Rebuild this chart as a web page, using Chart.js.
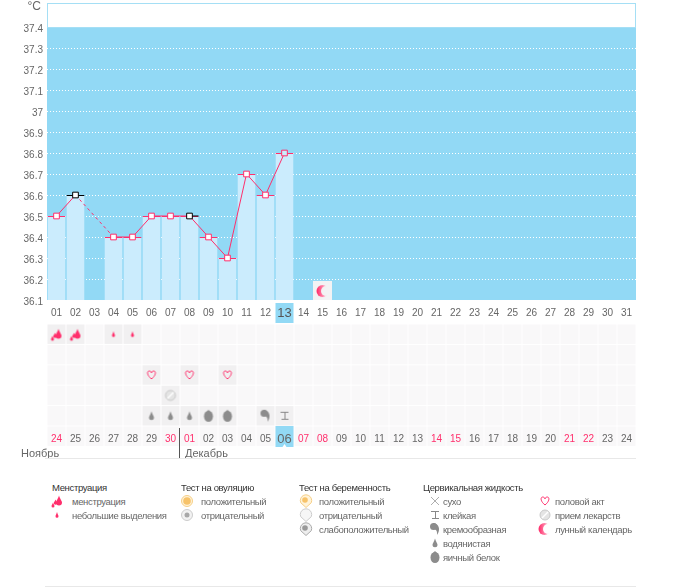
<!DOCTYPE html>
<html lang="ru">
<head>
<meta charset="utf-8">
<title>График температуры</title>
<script src="https://cdn.jsdelivr.net/npm/chart.js@4/dist/chart.umd.min.js"></script>
<style>
    html, body { margin: 0; padding: 0; background: #fff; }
    body { position: relative; width: 675px; height: 587px; overflow: hidden; font-family: "Liberation Sans", sans-serif; color: #666; }
    canvas.plot { position: absolute; left: 0; }
    .txt { position: absolute; font-size: 9.5px; letter-spacing: -0.35px; line-height: 12px; white-space: nowrap; }
    .title { color: #333; }
    .month { font-size: 11px; letter-spacing: 0; }
    .icon { position: absolute; }
    .rule { position: absolute; background: #e8e8e8; height: 1px; }
</style>
</head>
<body>
<canvas id="tempChart" class="plot" style="top:0" width="675" height="324"></canvas>
<canvas id="eventChart" class="plot" style="top:324px" width="675" height="135"></canvas>
<div id="legend"></div>
<script>
// Chart data
const days = ['01','02','03','04','05','06','07','08','09','10','11','12','13','14','15','16','17','18','19','20','21','22','23','24','25','26','27','28','29','30','31'];
const cycleDates = ['24','25','26','27','28','29','30','01','02','03','04','05','06','07','08','09','10','11','12','13','14','15','16','17','18','19','20','21','22','23','24'];
const redDates = [0, 6, 7, 13, 14, 20, 21, 27, 28];
const temps = [36.5, 36.6, null, 36.4, 36.4, 36.5, 36.5, 36.5, 36.4, 36.3, 36.7, 36.6, 36.8];
const tempTicks = [36.1, 36.2, 36.3, 36.4, 36.5, 36.6, 36.7, 36.8, 36.9, 37, 37.1, 37.2, 37.3, 37.4];
const blackDays = ['02', '08'];
const moonDays = ['15'];
const todayCycle = '13';

const heavyDays = ['01', '02'];
const spottingDays = ['04', '05'];
const intercourseDays = ['06', '08', '10'];
const medicineDays = ['07'];
const wateryDays = ['06', '07', '08'];
const eggWhiteDays = ['09', '10'];
const creamyDays = ['12'];
const stickyDays = ['13'];

const PINK = '#ff2f6c';
const BLUE = '#92d9f5';
const BAR = '#cbecfd';
const GREY = '#8c8c8c';
const FONT = '"Liberation Sans", sans-serif';
const TOP_VALUE = 37.5143;

// Small icons, used as point styles and in the legend
function makeIcon(size, draw) {
    const c = document.createElement('canvas');
    c.width = size;
    c.height = size;
    draw(c.getContext('2d'), size);
    return c;
}

function drop(g, x, y, w, h, color) {
    g.fillStyle = color;
    g.beginPath();
    g.moveTo(x, y - h / 2);
    g.bezierCurveTo(x + w * 0.2, y - h * 0.1, x + w / 2, y + h * 0.05, x + w / 2, y + h * 0.2);
    g.arc(x, y + h * 0.2, w / 2, 0, Math.PI);
    g.bezierCurveTo(x - w / 2, y + h * 0.05, x - w * 0.2, y - h * 0.1, x, y - h / 2);
    g.fill();
}

function shield(g, fill, stroke) {
    g.fillStyle = fill;
    g.strokeStyle = stroke;
    g.beginPath();
    g.arc(8, 7.5, 5.7, 0.4, Math.PI - 0.4, true);
    g.lineTo(8, 14.5);
    g.closePath();
    g.fill();
    g.stroke();
}

const iconDraw = {
    heavy: (g) => { drop(g, 10, 7.5, 6, 10, PINK); drop(g, 6.5, 9, 3.5, 5, PINK); drop(g, 4, 12, 3, 5, PINK); },
    spotting: (g) => { drop(g, 8, 8, 3, 6, PINK); },
    heart: (g) => {
        g.strokeStyle = PINK;
        g.lineWidth = 1;
        g.beginPath();
        g.moveTo(8, 12);
        g.bezierCurveTo(3, 8, 3.5, 4, 5.7, 4);
        g.bezierCurveTo(7, 4, 8, 5, 8, 6);
        g.bezierCurveTo(8, 5, 9, 4, 10.3, 4);
        g.bezierCurveTo(12.5, 4, 13, 8, 8, 12);
        g.stroke();
    },
    pill: (g) => {
        g.fillStyle = '#e4e4e4';
        g.strokeStyle = '#c8c8c8';
        g.beginPath();
        g.arc(8, 8, 5, 0, Math.PI * 2);
        g.fill();
        g.stroke();
        g.strokeStyle = '#fff';
        g.lineWidth = 1.5;
        g.beginPath();
        g.moveTo(5, 11);
        g.lineTo(11, 5);
        g.stroke();
    },
    watery: (g) => { drop(g, 8, 8, 5, 9, GREY); },
    eggWhite: (g) => {
        g.fillStyle = GREY;
        g.beginPath();
        g.ellipse(8, 8.5, 4.5, 5.5, 0, 0, Math.PI * 2);
        g.fill();
        g.beginPath();
        g.moveTo(5, 5);
        g.lineTo(8, 2);
        g.lineTo(11, 5);
        g.fill();
    },
    creamy: (g) => {
        g.fillStyle = GREY;
        g.beginPath();
        g.arc(6.5, 5.5, 3.5, 0, Math.PI * 2);
        g.fill();
        g.beginPath();
        g.moveTo(6, 2);
        g.bezierCurveTo(12, 2, 14, 9, 10, 14);
        g.bezierCurveTo(10.5, 10, 9, 8, 6, 8);
        g.fill();
    },
    sticky: (g) => {
        g.strokeStyle = '#888';
        g.lineWidth = 1;
        g.beginPath();
        g.moveTo(4, 4.5); g.lineTo(12, 4.5);
        g.moveTo(8.5, 4.5); g.lineTo(8.5, 11.5);
        g.moveTo(5, 11.5); g.lineTo(12, 11.5);
        g.stroke();
    },
    dry: (g) => {
        g.strokeStyle = '#999';
        g.lineWidth = 0.8;
        g.beginPath();
        g.moveTo(4, 4); g.lineTo(12, 12);
        g.moveTo(12, 4); g.lineTo(4, 12);
        g.stroke();
    },
    moon: (g) => {
        const fade = g.createLinearGradient(2, 0, 13, 0);
        fade.addColorStop(0, PINK);
        fade.addColorStop(1, '#ffd3df');
        g.fillStyle = fade;
        g.beginPath();
        g.arc(7.5, 8, 6, 0, Math.PI * 2);
        g.fill();
        g.globalCompositeOperation = 'destination-out';
        g.beginPath();
        g.arc(11, 8, 5, 0, Math.PI * 2);
        g.fill();
    },
    moonCell: (g, s) => {
        g.fillStyle = '#f3f3f4';
        g.fillRect(0, 0, s, s);
        const m = makeIcon(16, iconDraw.moon);
        g.drawImage(m, 2, 2);
    },
    ovuPos: (g) => {
        g.fillStyle = '#fff3d9';
        g.strokeStyle = '#f6cf86';
        g.beginPath();
        g.arc(8, 8, 5.5, 0, Math.PI * 2);
        g.fill();
        g.stroke();
        g.fillStyle = '#f7c36a';
        g.beginPath();
        g.arc(8, 8, 3.8, 0, Math.PI * 2);
        g.fill();
    },
    ovuNeg: (g) => {
        g.fillStyle = '#f2f2f2';
        g.strokeStyle = '#ccc';
        g.beginPath();
        g.arc(8, 8, 5.5, 0, Math.PI * 2);
        g.fill();
        g.stroke();
        g.fillStyle = '#a8a8a8';
        g.beginPath();
        g.arc(8, 8, 2.5, 0, Math.PI * 2);
        g.fill();
    },
    pregPos: (g) => {
        shield(g, '#fff3d9', '#f6cf86');
        g.fillStyle = '#f7c36a';
        g.beginPath();
        g.arc(7, 7, 2.8, 0, Math.PI * 2);
        g.fill();
    },
    pregNeg: (g) => { shield(g, '#f6f6f6', '#ccc'); },
    pregWeak: (g) => {
        shield(g, '#eee', '#aaa');
        g.fillStyle = '#999';
        g.beginPath();
        g.arc(7, 7, 2.8, 0, Math.PI * 2);
        g.fill();
    }
};

function icon(name, size) {
    return makeIcon(size || 16, iconDraw[name]);
}

// Fills the thermometer band, the today cell and the axis caption
const tempBackground = {
    id: 'tempBackground',
    beforeDraw(chart) {
        const { ctx, chartArea: a, scales: { x, y } } = chart;
        ctx.save();
        ctx.fillStyle = BLUE;
        ctx.fillRect(a.left, y.getPixelForValue(37.4), a.right - a.left, y.getPixelForValue(36.1) - y.getPixelForValue(37.4));
        ctx.strokeStyle = '#a5dff5';
        ctx.strokeRect(a.left + 0.5, a.top + 0.5, a.right - a.left - 1, y.getPixelForValue(37.4) - a.top);
        const step = x.getPixelForValue(1) - x.getPixelForValue(0);
        ctx.fillRect(x.getPixelForValue(days.indexOf(todayCycle)) - step / 2 + 0.5, a.bottom + 3, step - 1, 20);
        ctx.fillStyle = '#666';
        ctx.font = '12px ' + FONT;
        ctx.textAlign = 'right';
        ctx.textBaseline = 'middle';
        ctx.fillText('°C', 41, 7);
        ctx.restore();
    }
};

new Chart(document.getElementById('tempChart'), {
    data: {
        labels: days,
        datasets: [
            {
                type: 'line',
                data: temps,
                order: 0,
                spanGaps: true,
                tension: 0,
                borderColor: PINK,
                borderWidth: 1,
                segment: {
                    // the stretch over a missed day is dashed
                    borderDash: ctx => (ctx.p0.skip || ctx.p1.skip ? [3, 3] : undefined)
                },
                pointStyle: 'rect',
                pointRadius: 4,
                pointBorderWidth: 1,
                pointBackgroundColor: days.map(d => (d === todayCycle ? BAR : '#fff')),
                pointBorderColor: days.map(d => (blackDays.includes(d) ? '#000' : PINK))
            },
            {
                type: 'line',
                data: days.map(d => (d === '08' ? temps[days.indexOf(d)] : null)),
                order: 1,
                showLine: false,
                pointStyle: 'dash',
                pointRadius: 9,
                pointBorderWidth: 1,
                pointBorderColor: '#000'
            },
            {
                type: 'line',
                data: days.map(d => (moonDays.includes(d) ? 36.145 : null)),
                order: 1,
                showLine: false,
                pointStyle: icon('moonCell', 19)
            },
            {
                type: 'bar',
                data: temps,
                order: 2,
                backgroundColor: BAR,
                borderColor: days.map(d => (d === '02' ? '#000' : PINK)),
                borderWidth: { top: 1, left: 0, right: 0, bottom: 0 },
                borderSkipped: false,
                barPercentage: 0.95,
                categoryPercentage: 1
            }
        ]
    },
    options: {
        responsive: false,
        animation: false,
        events: [],
        layout: { autoPadding: false, padding: { top: 3, right: 39, left: 0, bottom: 0 } },
        plugins: { legend: { display: false }, tooltip: { enabled: false } },
        scales: {
            x: {
                offset: true,
                grid: { display: false },
                border: { display: false },
                afterFit: s => { s.height = 24; },
                ticks: {
                    autoSkip: false,
                    maxRotation: 0,
                    padding: -1,
                    color: ctx => (days[ctx.index] === todayCycle ? '#555' : '#666'),
                    font: ctx => ({ family: FONT, size: days[ctx.index] === todayCycle ? 13 : 10, lineHeight: '12px' })
                }
            },
            y: {
                min: 36.1,
                max: TOP_VALUE,
                afterFit: s => { s.width = 47; s.paddingTop = 0; s.paddingBottom = 0; },
                afterBuildTicks: s => { s.ticks = tempTicks.map(v => ({ value: v })); },
                border: { display: false, dash: [1, 2] },
                grid: {
                    drawTicks: false,
                    color: ctx => (ctx.tick && ctx.tick.value === 37.4 ? 'rgba(255,255,255,0)' : '#fff'),
                    lineWidth: 1
                },
                ticks: {
                    padding: 4,
                    color: '#666',
                    font: { family: FONT, size: 10, lineHeight: '4px' },
                    // second line of the label sits slightly below the grid line
                    callback: v => ['', String(v)]
                }
            }
        }
    },
    plugins: [tempBackground]
});

// Event rows under the temperature chart
const eventRows = [
    { list: heavyDays, name: 'heavy', row: 0 },
    { list: spottingDays, name: 'spotting', row: 0 },
    { list: intercourseDays, name: 'heart', row: 2 },
    { list: medicineDays, name: 'pill', row: 3 },
    { list: wateryDays, name: 'watery', row: 4 },
    { list: eggWhiteDays, name: 'eggWhite', row: 4 },
    { list: creamyDays, name: 'creamy', row: 4 },
    { list: stickyDays, name: 'sticky', row: 4 }
];

const eventCells = {
    id: 'eventCells',
    beforeDraw(chart) {
        const { ctx, chartArea: a, scales: { x, y } } = chart;
        const step = x.getPixelForValue(1) - x.getPixelForValue(0);
        const rowH = y.getPixelForValue(1) - y.getPixelForValue(0);
        ctx.save();
        for (let r = 0; r < 6; r++) {
            days.forEach((d, i) => {
                const used = eventRows.some(e => e.row === r && e.list.includes(d));
                ctx.fillStyle = used ? '#f1f0f1' : '#f9f8f9';
                ctx.fillRect(x.getPixelForValue(i) - step / 2 + 0.5, y.getPixelForValue(r) + 0.5, step - 1, rowH - 1);
            });
        }
        const today = cycleDates.indexOf('06', 1);
        ctx.fillStyle = BLUE;
        ctx.fillRect(x.getPixelForValue(today) - step / 2 + 0.5, a.bottom, step - 1, 21);
        ctx.fillStyle = '#fff';
        ctx.beginPath();
        const tx = x.getPixelForValue(today);
        ctx.moveTo(tx - 2, a.bottom + 21);
        ctx.lineTo(tx, a.bottom + 18);
        ctx.lineTo(tx + 2, a.bottom + 21);
        ctx.fill();
        // month divider
        const mx = x.getPixelForValue(cycleDates.indexOf('01')) - step / 2;
        ctx.fillStyle = '#555';
        ctx.fillRect(Math.round(mx) - 1, a.bottom + 2, 1, 30);
        ctx.restore();
    }
};

new Chart(document.getElementById('eventChart'), {
    type: 'scatter',
    data: {
        labels: days,
        datasets: eventRows.map(e => ({
            data: e.list.map(d => ({ x: d, y: e.row + 0.5 })),
            pointStyle: icon(e.name, 16),
            pointRadius: 8
        }))
    },
    options: {
        responsive: false,
        animation: false,
        events: [],
        layout: { autoPadding: false, padding: { top: 0, right: 39, left: 0, bottom: 0 } },
        plugins: { legend: { display: false }, tooltip: { enabled: false } },
        scales: {
            x: {
                type: 'category',
                labels: days,
                offset: true,
                grid: { display: false },
                border: { display: false },
                afterFit: s => { s.height = 33; },
                ticks: {
                    autoSkip: false,
                    maxRotation: 0,
                    padding: -1,
                    callback: (v, i) => cycleDates[i],
                    color: ctx => (redDates.includes(ctx.index) ? PINK : '#666'),
                    font: ctx => ({ family: FONT, size: ctx.index === 12 ? 13 : 10, lineHeight: '12px' })
                }
            },
            y: {
                min: 0,
                max: 5,
                reverse: true,
                afterFit: s => { s.width = 47; },
                grid: { display: false },
                border: { display: false },
                ticks: { display: false }
            }
        }
    },
    plugins: [eventCells]
});

// Legend and month captions
const legendColumns = [
    { title: 'Менструация', x: 52, iconX: 49, textX: 72, items: [['heavy', 'менструация'], ['spotting', 'небольшие выделения']] },
    { title: 'Тест на овуляцию', x: 181, iconX: 179, textX: 201, items: [['ovuPos', 'положительный'], ['ovuNeg', 'отрицательный']] },
    { title: 'Тест на беременность', x: 299, iconX: 298, textX: 319, items: [['pregPos', 'положительный'], ['pregNeg', 'отрицательный'], ['pregWeak', 'слабоположительный']] },
    { title: 'Цервикальная жидкость', x: 423, iconX: 427, textX: 443, items: [['dry', 'сухо'], ['sticky', 'клейкая'], ['creamy', 'кремообразная'], ['watery', 'водянистая'], ['eggWhite', 'яичный белок']] },
    { title: '', x: 0, iconX: 537, textX: 555, items: [['heart', 'половой акт'], ['pill', 'прием лекарств'], ['moon', 'лунный календарь']] }
];

function addText(parent, text, x, y, cls) {
    const el = document.createElement('div');
    el.className = 'txt ' + (cls || '');
    el.textContent = text;
    el.style.left = x + 'px';
    el.style.top = y + 'px';
    parent.appendChild(el);
}

const legend = document.getElementById('legend');
legendColumns.forEach(col => {
    if (col.title) addText(legend, col.title, col.x, 482, 'title');
    col.items.forEach(([name, label], i) => {
        const c = icon(name, 16);
        c.className = 'icon';
        c.style.left = col.iconX + 'px';
        c.style.top = (493 + i * 14) + 'px';
        legend.appendChild(c);
        addText(legend, label, col.textX, 496 + i * 14);
    });
});
addText(legend, 'Ноябрь', 21, 447, 'month');
addText(legend, 'Декабрь', 185, 447, 'month');

[458, 586].forEach(top => {
    const r = document.createElement('div');
    r.className = 'rule';
    r.style.left = '45px';
    r.style.width = '591px';
    r.style.top = top + 'px';
    legend.appendChild(r);
});
</script>
</body>
</html>
